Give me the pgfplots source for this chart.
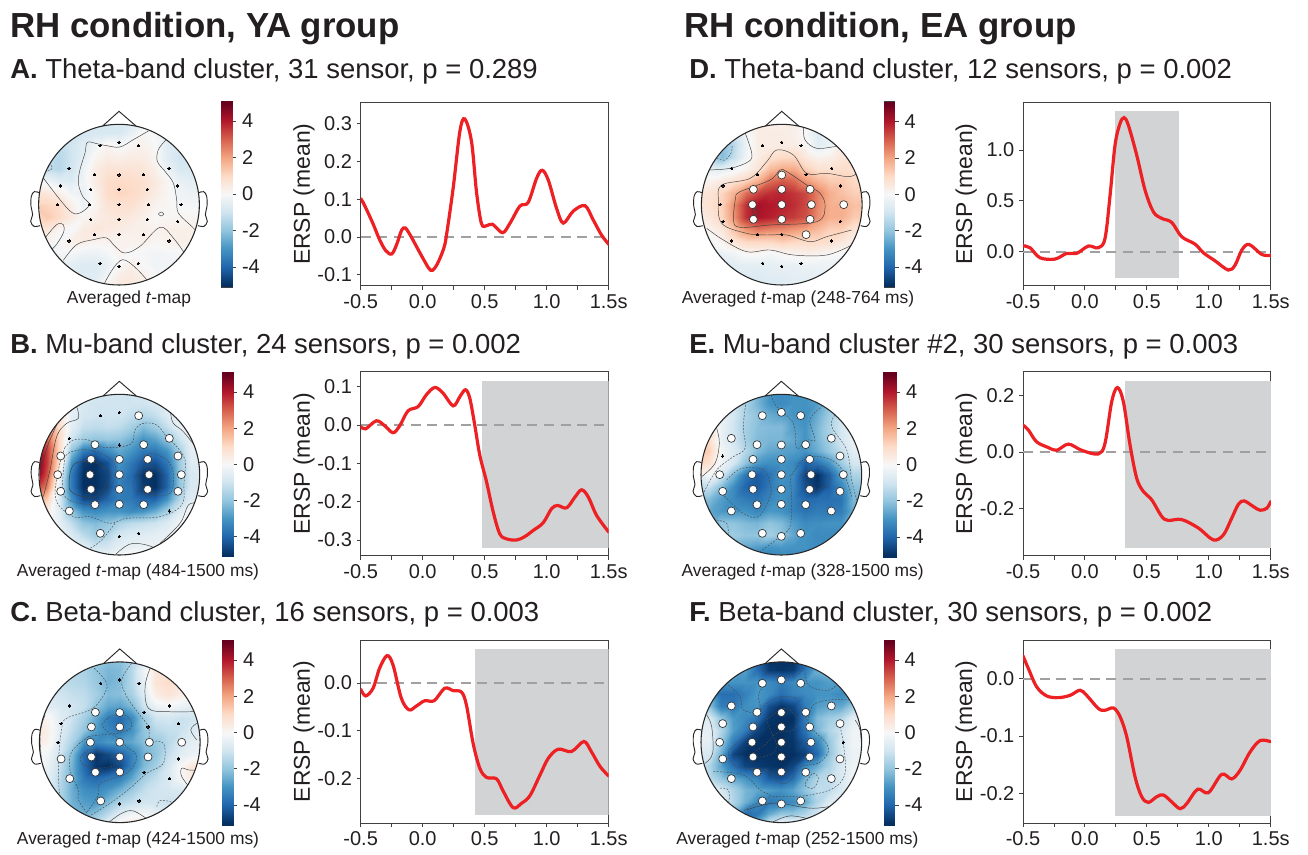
\documentclass[border=0pt]{standalone}
\usepackage{pgfplots}
\usepackage{pgfplotstable}
\usepackage{fontspec}
\setmainfont{Liberation Sans}
\pgfplotsset{compat=1.18}
\definecolor{txt}{HTML}{231F20}
\definecolor{redl}{HTML}{ED2024}
\definecolor{band}{HTML}{D1D3D4}
\definecolor{dashg}{HTML}{A0A0A0}
\definecolor{axl}{HTML}{404040}
\pgfplotstableread[row sep=\\,header=false]{
-1\\-1\\-1\\-1\\-.9\\-.9\\-.9\\-.9\\-.7\\-.4\\-.4\\-.5\\-.6\\-.6\\-.6\\
-1\\-1\\-1\\-1\\-.9\\-.8\\-.8\\-.8\\-.4\\.1\\-.1\\-.4\\-.6\\-.6\\-.6\\
-1.2\\-1.2\\-1.2\\-1\\-.6\\-.2\\.2\\-.1\\.1\\.2\\0\\-.6\\-.8\\-.8\\-.8\\
-1.3\\-1.3\\-1.4\\-1\\-.5\\.1\\.4\\.3\\.4\\.4\\.1\\-.6\\-1\\-1\\-1\\
-1.3\\-1.3\\-1.4\\-1\\-.3\\.4\\.7\\.7\\.7\\.6\\.3\\-.3\\-.8\\-.8\\-.8\\
-.2\\-.2\\-.6\\-.7\\-.2\\.4\\.9\\1\\.9\\.8\\.5\\.1\\-.4\\-.5\\-.5\\
.6\\.6\\.3\\-.2\\-.4\\.2\\.9\\1.1\\1\\.8\\.4\\.1\\-.2\\-.3\\-.3\\
1.1\\1.1\\.9\\.3\\-.3\\.1\\.7\\.8\\.8\\.5\\.2\\.1\\-.1\\-.1\\-.1\\
1.3\\1.3\\1\\.5\\.1\\.3\\.5\\.6\\.5\\.3\\0\\.1\\.1\\.1\\.1\\
.6\\.6\\.1\\-.1\\.4\\.6\\.5\\.4\\.3\\.3\\.2\\.3\\.3\\.3\\.3\\
.2\\.2\\-.1\\.3\\.4\\.2\\.2\\.2\\.2\\.3\\.1\\.2\\.3\\.3\\.3\\
-.3\\-.3\\-.1\\-.1\\-.3\\-.3\\-.1\\.2\\-.1\\-.1\\-.2\\-.1\\-.1\\-.1\\-.1\\
-.4\\-.4\\-.4\\-.5\\-.7\\-.7\\-.4\\0\\.3\\0\\-.2\\-.2\\-.2\\-.2\\-.2\\
-.4\\-.4\\-.4\\-.5\\-.6\\-.6\\-.1\\.4\\.5\\.3\\-.1\\-.2\\-.2\\-.2\\-.2\\
-.4\\-.4\\-.4\\-.5\\-.6\\-.3\\.2\\.5\\.5\\.4\\0\\-.2\\-.2\\-.2\\-.2\\
}\mapA
\pgfplotstableread[row sep=\\,header=false]{
.3\\.3\\0\\-.3\\-.6\\-.8\\-.9\\-1\\-1\\-.9\\-.6\\-.4\\0\\.3\\.3\\
.3\\.3\\0\\-.2\\-.8\\-1\\-1\\-1\\-1\\-1\\-.8\\-.5\\0\\.3\\.3\\
1.5\\1.5\\.8\\-.5\\-.9\\-1\\-1\\-1\\-1.2\\-1.4\\-1.2\\-.7\\0\\.4\\.4\\
2.2\\2.2\\.9\\-.5\\-1.2\\-1.3\\-1.2\\-1.3\\-1.7\\-2.2\\-1.8\\-1.2\\-.5\\.2\\.2\\
3.5\\3\\1\\-1\\-1.8\\-2\\-1.9\\-2\\-2.4\\-3\\-2.7\\-2\\-1.1\\-.3\\-.3\\
4.5\\3.5\\1\\-2\\-3.5\\-3.9\\-3.2\\-2.6\\-3\\-3.6\\-3.6\\-3\\-1.7\\-.5\\-.5\\
5\\3.5\\.8\\-3\\-4.8\\-5\\-4.4\\-3\\-3.6\\-4.3\\-4.4\\-3.6\\-1.9\\-.6\\-.6\\
5\\3.2\\0\\-3.5\\-5\\-5\\-4.6\\-3.2\\-3.9\\-4.9\\-5\\-4\\-2\\-.8\\-.8\\
4.8\\2.5\\-.5\\-3.5\\-5\\-5\\-4.6\\-3.4\\-3.7\\-4.8\\-5\\-4\\-2\\-.8\\-.8\\
2.5\\1.2\\-.7\\-3\\-4.5\\-4.6\\-4\\-3.5\\-3.6\\-4\\-4\\-3\\-1.5\\-.6\\-.6\\
1\\.5\\-.6\\-2\\-3\\-3.2\\-3\\-3\\-3.2\\-3\\-2.5\\-1.7\\-.7\\0\\.3\\
.3\\.2\\-.4\\-1.2\\-2\\-2.2\\-2\\-1.6\\-1.3\\-1.2\\-1\\-.7\\-.2\\.2\\.3\\
.2\\.2\\-.2\\-.7\\-1.3\\-1.8\\-1.5\\-.9\\-.7\\-.6\\-.5\\-.4\\-.1\\.1\\.2\\
.2\\.2\\.1\\-.3\\-.5\\-1\\-.9\\-.5\\-.4\\-.3\\-.3\\-.2\\0\\.1\\.2\\
.2\\.2\\.2\\.2\\.2\\.1\\0\\.3\\.6\\.6\\.2\\0\\0\\.1\\.2\\
}\mapB
\pgfplotstableread[row sep=\\,header=false]{
-1\\-1\\-1\\-1.2\\-1.5\\-1.8\\-2\\-2\\-1.5\\-.6\\0\\.3\\.5\\.5\\.5\\
-1.2\\-1.2\\-1.2\\-1.3\\-1.6\\-2\\-2.3\\-2.2\\-1.4\\-.2\\.6\\.7\\.5\\.3\\.3\\
-1.2\\-1.2\\-1.3\\-1.4\\-1.5\\-1.9\\-2.4\\-2.2\\-1.4\\-.4\\.7\\.9\\.6\\.2\\.2\\
-.9\\-.9\\-1\\-1.2\\-1.3\\-1.7\\-2.2\\-2.1\\-1.6\\-.6\\.4\\.7\\.4\\0\\0\\
-.6\\-.6\\-.8\\-1\\-1.2\\-2\\-2.6\\-2.7\\-2.2\\-1\\-.3\\-.1\\-.3\\-.5\\-.5\\
.3\\.1\\-.6\\-1.1\\-1.7\\-2.6\\-3.5\\-3.9\\-3.2\\-1.8\\-1\\-.9\\-1.1\\-1\\-1\\
.6\\.3\\-.6\\-1.3\\-2\\-2.8\\-3.3\\-3.6\\-3\\-2\\-1.4\\-1.2\\-1.1\\-.7\\-.5\\
.5\\.2\\-.8\\-1.6\\-3\\-3.2\\-2.9\\-2.8\\-2.6\\-2.1\\-1.9\\-1.4\\-.9\\-.5\\-.3\\
.3\\-.2\\-1\\-2.2\\-3.9\\-4.9\\-4.5\\-4\\-3.3\\-2.4\\-2\\-1.2\\-.6\\-.3\\-.2\\
0\\-.4\\-1.2\\-2.4\\-3.9\\-4.9\\-5\\-4.5\\-3.3\\-2.2\\-1.7\\-.9\\0\\.6\\.9\\
-.2\\-.5\\-1.4\\-2.4\\-3.6\\-3.9\\-3.6\\-3.4\\-2.6\\-1.7\\-1.2\\-.8\\-.1\\.5\\.7\\
-.4\\-.6\\-1.5\\-2.5\\-3.1\\-3.2\\-2.9\\-2.4\\-1.8\\-1.2\\-1\\-.9\\-.8\\-.3\\-.3\\
-.5\\-.8\\-1.5\\-2.4\\-2.8\\-2.9\\-2.2\\-1.5\\-1.2\\-1\\-1\\-1.1\\-1\\-.6\\-.6\\
-.5\\-.8\\-1.4\\-2.2\\-2.4\\-2\\-1.3\\-.6\\-.2\\-.1\\-.5\\-.7\\-.7\\-.6\\-.6\\
-.5\\-.8\\-1.2\\-1.5\\-1.5\\-1\\-.2\\.5\\.8\\.7\\-.2\\-.5\\-.6\\-.6\\-.6\\
}\mapC
\pgfplotstableread[row sep=\\,header=false]{
-.5\\-.5\\-.5\\-.5\\0\\.4\\.3\\.3\\.3\\0\\-.3\\0\\.3\\.3\\.3\\
-.8\\-.8\\-1\\-.9\\-.1\\.4\\.4\\.4\\.3\\-.1\\-.7\\-.3\\.3\\.5\\.5\\
-1.5\\-1.7\\-2\\-1.4\\-.3\\.4\\.4\\.4\\.4\\.1\\-.6\\-.3\\.4\\.6\\.6\\
-1.2\\-1.3\\-2.2\\-1.2\\-.2\\.4\\.8\\1\\1\\.5\\.2\\.3\\.6\\.8\\.8\\
-.4\\-.4\\-.5\\-.2\\.2\\.7\\1.6\\1.9\\1.9\\1.2\\.8\\.8\\.9\\.8\\.8\\
.1\\.2\\.5\\.8\\1.2\\1.8\\2.8\\3.1\\2.9\\2.2\\1.7\\1.3\\1.3\\1\\1\\
.6\\.7\\1.1\\1.8\\2.8\\3.4\\3.7\\3.8\\3.6\\3.3\\2.5\\1.8\\1.5\\1.2\\1.2\\
.7\\.8\\1.2\\2.4\\3.7\\4.2\\4\\3.9\\3.7\\3.3\\2.4\\1.8\\1.8\\1.5\\1.5\\
.6\\.6\\1.1\\2.3\\3.7\\4.1\\3.9\\3.7\\3.5\\3.2\\2.3\\1.8\\1.8\\1.3\\1.3\\
.1\\.2\\.6\\1.5\\2.3\\2.7\\2.5\\2.4\\2.2\\2\\1.6\\1.2\\1.2\\.7\\.7\\
-.2\\-.2\\.2\\.7\\1.1\\1.1\\1.1\\1.3\\1.1\\1\\1\\.9\\.6\\.3\\.3\\
-.5\\-.5\\-.3\\-.2\\.1\\.1\\-.1\\.1\\.2\\.3\\.2\\.1\\0\\-.1\\-.1\\
-.7\\-.7\\-.7\\-.6\\-.5\\-.5\\-.5\\-.4\\-.4\\-.3\\-.3\\-.3\\-.3\\-.3\\-.3\\
-.7\\-.7\\-.7\\-.7\\-.7\\-.7\\-.6\\-.6\\-.5\\-.5\\-.4\\-.4\\-.3\\-.3\\-.3\\
-.7\\-.7\\-.7\\-.7\\-.7\\-.7\\-.6\\-.6\\-.5\\-.5\\-.4\\-.4\\-.3\\-.3\\-.3\\
}\mapD
\pgfplotstableread[row sep=\\,header=false]{
-.5\\-.5\\-.7\\-1\\-1.5\\-2.3\\-3\\-3.2\\-3\\-3\\-2.8\\-2\\-1\\-.6\\-.6\\
-.4\\-.4\\-.7\\-1\\-1.6\\-2.3\\-3\\-3.2\\-3\\-3\\-2.8\\-2.1\\-1.1\\-.7\\-.7\\
-.3\\-.3\\-.5\\-.9\\-1.6\\-2\\-2.5\\-2.7\\-3\\-3.1\\-2.5\\-1.8\\-1\\-.6\\-.6\\
.1\\.1\\-.3\\-1\\-1.7\\-2.1\\-2.2\\-2.2\\-2.8\\-3\\-2.3\\-1.6\\-.9\\-.4\\-.4\\
1.2\\.9\\-.4\\-.9\\-1.7\\-2.2\\-2.3\\-2.3\\-2.6\\-3\\-2.3\\-1.7\\-.9\\-.3\\-.3\\
1.6\\1.2\\-.1\\-.7\\-1.4\\-2.2\\-2.6\\-2.7\\-2.8\\-3\\-2.5\\-1.9\\-1.2\\-.5\\-.5\\
1.2\\.8\\-.2\\-.9\\-2\\-2.9\\-3.1\\-3\\-3.2\\-4.1\\-3.7\\-3\\-1.8\\-.9\\-.9\\
.2\\-.1\\-.9\\-2.3\\-3.6\\-4.2\\-3.7\\-3\\-3.2\\-4.6\\-5\\-4.1\\-2.8\\-1.6\\-1.6\\
-.7\\-1.2\\-2.2\\-3.1\\-4\\-4.2\\-3.6\\-3.1\\-3.3\\-4.4\\-4.9\\-4.1\\-3.3\\-2.1\\-2.1\\
-2\\-2.2\\-2.8\\-3.2\\-3.5\\-3.7\\-3.3\\-3\\-3.4\\-3.9\\-3.8\\-3.8\\-3.7\\-2.3\\-2.3\\
-2.4\\-2.6\\-2.9\\-3\\-3\\-3.3\\-2.9\\-3\\-3.4\\-3.7\\-3.5\\-3.6\\-3.5\\-2.5\\-2.5\\
-2.4\\-2.4\\-2\\-2\\-2.2\\-2.3\\-2\\-2.2\\-2.8\\-3.2\\-3.1\\-3\\-3\\-2.6\\-2.6\\
-2.4\\-2.4\\-1.9\\-1.8\\-2\\-2\\-1.7\\-2\\-2.6\\-3\\-3.2\\-3.2\\-3.2\\-3\\-3\\
-2.6\\-2.6\\-2.5\\-2.4\\-2.6\\-2.8\\-3\\-2.9\\-3\\-3\\-3.2\\-3.3\\-3.3\\-3.1\\-3.1\\
-3\\-3\\-3\\-3\\-3.2\\-3.4\\-3.5\\-3.3\\-3.3\\-3.3\\-3.3\\-3.3\\-3.3\\-3\\-3\\
}\mapE
\pgfplotstableread[row sep=\\,header=false]{
-2.5\\-2.5\\-2.5\\-2.5\\-3\\-4\\-5\\-5\\-5\\-4\\-2.8\\-2.5\\-2.5\\-2\\-2\\
-1.8\\-1.8\\-1.9\\-2.2\\-2.8\\-3.8\\-4.8\\-4.9\\-4.8\\-3.6\\-2.4\\-2.2\\-2.2\\-2\\-2\\
-2.5\\-2.8\\-3\\-3\\-3\\-3\\-3.2\\-3.5\\-3.2\\-3\\-3\\-2.8\\-2.8\\-2.4\\-2.4\\
-3.2\\-3.2\\-3.8\\-3.8\\-3.4\\-2.9\\-3.2\\-3.8\\-3.4\\-3.2\\-3\\-3\\-3.2\\-2.8\\-2.8\\
-1.8\\-2\\-3.5\\-3.6\\-3.1\\-3\\-4.4\\-4.9\\-4.6\\-3.5\\-2.8\\-2.6\\-2.6\\-1.8\\-1.8\\
-.5\\-.7\\-2\\-2.9\\-3.2\\-3.7\\-4.9\\-5\\-5\\-3.5\\-2.2\\-1.8\\-1.5\\-.5\\-.5\\
-.4\\-.5\\-1.5\\-2.8\\-3.5\\-4.6\\-5\\-5\\-4.8\\-3.7\\-2.3\\-1.5\\-1\\-.2\\-.2\\
-.3\\-.5\\-1.9\\-3.5\\-4.7\\-5\\-5\\-5\\-4.9\\-4.2\\-3.4\\-1.9\\-.9\\-.2\\-.2\\
-.5\\-.8\\-2.5\\-4.6\\-5\\-5\\-5\\-5\\-5\\-4.7\\-3.9\\-2\\-.9\\-.3\\-.3\\
-1\\-1.5\\-2.7\\-3.8\\-4.6\\-4.8\\-4.9\\-5\\-4.6\\-3.2\\-2.5\\-1.6\\-.8\\-.2\\-.2\\
-1\\-1.3\\-2\\-2.6\\-3\\-3.4\\-4.2\\-4.4\\-3.8\\-2.4\\-1.5\\-1.3\\-.8\\-.2\\-.2\\
-.4\\-.3\\-.8\\-1.6\\-2.3\\-2.6\\-2.8\\-3\\-2.7\\-2\\-1.3\\-1.3\\-.8\\-.2\\-.2\\
-.1\\-.1\\-.6\\-1.5\\-2.4\\-3.2\\-3.6\\-3.4\\-3.2\\-2.6\\-1.5\\-.7\\-.2\\0\\0\\
-.1\\-.2\\-.8\\-2.4\\-3.8\\-3.6\\-2.5\\-1.9\\-1.9\\-1.5\\-.9\\-.3\\0\\0\\0\\
-.1\\-.2\\-1.5\\-3.2\\-3.4\\-2\\-.5\\.3\\.3\\.1\\-.1\\0\\0\\0\\0\\
}\mapF
\pgfplotsset{
  colormap={rdbu}{rgb255=(5,48,97) rgb255=(33,102,172) rgb255=(67,147,195) rgb255=(146,197,222) rgb255=(209,229,240) rgb255=(247,247,247) rgb255=(253,219,199) rgb255=(244,165,130) rgb255=(214,96,77) rgb255=(178,24,43) rgb255=(103,0,31)},
  colormap name=rdbu,
  topo/.style={at={#1},anchor=center,scale only axis,width=145pt,height=145pt,
    xmin=-290,xmax=290,ymin=-290,ymax=290,hide axis,clip=false,point meta min=-5,point meta max=5},
  mapsurf/.style={surf,shader=interp,mesh/cols=15,point meta=explicit,mesh/check=false},
  cs/.style={smooth,tension=0.6,line width=0.35pt,color=black!75,no markers},
  cd/.style={smooth,tension=0.6,line width=0.35pt,color=black!70,no markers,dash pattern=on 1.4pt off 1.1pt},
  outl/.style={line width=0.7pt,color=black!85,no markers},
  blk/.style={only marks,mark=*,mark size=0.85pt,mark options={fill=black,draw=black,line width=0pt}},
  wht/.style={only marks,mark=*,mark size=3pt,mark options={fill=white,draw=black!80,line width=0.5pt}},
  cbar/.style={at={#1},anchor=south west,scale only axis,
    ymin=-5.1,ymax=5.1,xmin=0,xmax=1,xtick=\empty,ytick pos=right,ytick={-4,-2,0,2,4},
    yticklabels={-4,-2,0,2,4},axis line style={axl,line width=0.6pt},
    y tick style={axl,line width=0.6pt},major tick length=3pt,tick align=outside,
    tick label style={font=\fontsize{15}{17}\selectfont,text=txt},yticklabel style={xshift=1pt},
    point meta min=-5,point meta max=5},
  lin/.style={at={#1},anchor=south west,scale only axis,
    xmin=-0.5,xmax=1.5,xtick={-0.5,-0.25,...,1.5},xticklabels={-0.5,,0.0,,0.5,,1.0,,1.5s},
    tick pos=left,tick align=outside,major tick length=3pt,
    axis line style={axl,line width=0.7pt},tick style={axl,line width=0.7pt},
    tick label style={font=\fontsize{15}{17}\selectfont,text=txt},
    ylabel={ERSP (mean)},ylabel style={at={(axis description cs:-0.205,0.5)},anchor=base,font=\fontsize{17.2}{19}\selectfont,text=txt}},
  redc/.style={smooth,tension=0.55,line width=2.4pt,color=redl,no markers,line cap=round},
  zero/.style={line width=1.25pt,color=dashg,dash pattern=on 7.5pt off 5pt,no markers},
  bnd/.style={draw=none,fill=band,no markers},
}
\newcommand{\cbplot}{\addplot[surf,shader=interp,mesh/cols=2,point meta=y,mesh/check=false] coordinates {
(0,-5.1)(1,-5.1)
(0,-5)(1,-5)
(0,-4)(1,-4)
(0,-3)(1,-3)
(0,-2)(1,-2)
(0,-1)(1,-1)
(0,0)(1,0)
(0,1)(1,1)
(0,2)(1,2)
(0,3)(1,3)
(0,4)(1,4)
(0,5)(1,5)
(0,5.1)(1,5.1)
};}
\newcommand{\gridplot}[1]{\addplot[mapsurf] table[x index=0,y index=0,x expr={-252+36*mod(\coordindex,15)},y expr={252-36*floor(\coordindex/15)},meta index=0] {#1};}
\newcommand{\maskhead}{%
  \fill[white,even odd rule] (axis cs:-262,-262) rectangle (axis cs:262,262) (axis cs:0,0) circle[radius=241];
  \addplot[outl,fill=white,smooth,tension=0.6] coordinates {(-240,36)(-254,39)(-263,25)(-264,-5)(-259,-30)(-265,-50)(-255,-65)(-237,-63)};
  \addplot[outl,fill=white,smooth,tension=0.6] coordinates {(240,36)(254,39)(263,25)(264,-5)(259,-30)(265,-50)(255,-65)(237,-63)};
  \addplot[outl] coordinates {(-49,236)(0,280)(51,236)};
  \draw[line width=0.8pt,black!85] (axis cs:0,0) circle[radius=241];
}
\begin{document}
\begin{tikzpicture}[every node/.append style={text=txt}]
\path[use as bounding box] (0,0) rectangle (981pt,640.5pt);
% ---- topo maps
\begin{axis}[topo={(89.25pt,487pt)}]
\gridplot{\mapA}
\addplot[cs] coordinates {(88,221)(43,195)(3,173)(-37,177)(-67,183)(-95,187)(-102,155)(-117,105)(-122,65)(-109,25)(-89,0)(-117,-25)(-142,-23)(-177,15)(-227,80)};
\addplot[cs] coordinates {(140,193)(118,165)(115,130)(138,100)(163,65)(173,15)(178,-25)(218,-65)(233,-80)};
\addplot[cs] coordinates {(-167,-167)(-127,-120)(-77,-105)(-37,-100)(-12,-125)(18,-145)(63,-125)(123,-68)(163,-100)(203,-155)};
\addplot[cs] coordinates {(-44,-237)(11,-165)(83,-225)};
\addplot[cs] coordinates {(-222,-100)(-187,-60)(-167,-60)(-167,-85)(-192,-125)(-212,-140)};
\addplot[cs] coordinates {(118,-28)(126,-22)(134,-28)(126,-34)(118,-28)};
\addplot[cd] coordinates {(-210,125)(-200,110)(-215,100)};
\maskhead
\addplot[blk] coordinates {(-57,177)(0,187)(58,177)(-150,109)(-73,90)(0,89)(73,90)(150,109)(-176,56)(-85,46)(0,46)(85,46)(176,56)(-185,0)(-88,0)(0,0)(89,0)(186,0)(-85,-44)(0,-44)(85,-44)(176,-50)(-150,-109)(-73,-90)(0,-89)(73,-90)(150,-109)(-57,-176)(0,-185)(58,-176)};
\end{axis}
\begin{axis}[topo={(89.5pt,284.5pt)}]
\gridplot{\mapB}
\addplot[cs] coordinates {(-128,204)(-123,169)(-158,154)(-188,114)(-208,14)(-228,-66)};
\addplot[cs] coordinates {(-186,154)(-216,84)(-236,14)};
\addplot[cs] coordinates {(154,184)(162,154)(192,129)(232,79)};
\addplot[cs] coordinates {(232,-86)(207,-91)(182,-146)(122,-206)};
\addplot[cs] coordinates {(-10,-238)(17,-216)(42,-206)(82,-211)(122,-226)};
\addplot[cd] coordinates {(-163,82)(-183,14)(-190,-76)(-138,-126)(-88,-126)(-28,-146)(22,-131)(122,-126)(187,-91)(194,-26)(197,44)(172,84)(142,114)(112,149)(72,154)(47,134)(37,94)(-8,82)(-58,84)(-93,104)(-138,104)(-163,82)};
\addplot[cd] coordinates {(-13,-146)(-53,-196)(-88,-221)};
\addplot[cd] coordinates {(-163,54)(-168,-56)(-118,-86)(-58,-81)(-13,-6)(-23,44)(-88,74)(-143,69)(-163,54)};
\addplot[cd] coordinates {(52,4)(42,-41)(92,-61)(152,-56)(162,4)(142,44)(92,64)(62,34)(52,4)};
\addplot[cs] coordinates {(-148,4)(-148,-46)(-108,-66)(-63,-61)(-28,-1)(-48,24)(-88,39)(-133,34)(-148,4)};
\addplot[cd] coordinates {(57,-16)(82,-46)(122,-51)(137,-16)(117,14)(82,24)(62,4)(57,-16)};
\maskhead
\addplot[blk] coordinates {(-57,177)(0,187)(-150,109)(0,89)(150,-109)(0,-185)(58,-176)};
\addplot[wht] coordinates {(58,177)(150,109)(-73,90)(73,90)(-176,56)(-85,46)(0,46)(85,46)(176,56)(-185,0)(-88,0)(0,0)(89,0)(186,0)(-176,-50)(-85,-44)(0,-44)(85,-44)(176,-50)(-150,-109)(-73,-90)(0,-89)(73,-90)(-57,-176)};
\end{axis}
\begin{axis}[topo={(89.8pt,83.8pt)}]
\gridplot{\mapC}
\addplot[cs] coordinates {(91,222)(76,167)(86,102)(141,92)(231,92)};
\addplot[cs] coordinates {(231,57)(213,37)(231,7)};
\addplot[cs] coordinates {(231,-83)(206,-83)(186,-78)(186,-103)(216,-143)};
\addplot[cs] coordinates {(-224,82)(-239,27)(-234,-63)};
\addplot[cs] coordinates {(-34,-241)(6,-213)(41,-206)(86,-233)};
\addplot[cd] coordinates {(36,237)(6,187)(21,137)(56,87)(86,47)(91,7)(131,-3)(131,-63)(81,-93)(31,-138)(-29,-183)(-94,-223)};
\addplot[cd] coordinates {(-84,229)(-39,177)(-54,132)(-89,97)(-159,72)(-174,42)(-184,-63)(-181,-153)};
\addplot[cd] coordinates {(-54,52)(-29,77)(16,82)(36,52)(16,32)(-29,27)(-54,52)};
\addplot[cd] coordinates {(-94,17)(-144,-28)(-149,-83)(-124,-143)(-124,-173)(-96,-215)};
\addplot[cd] coordinates {(-94,17)(-20,22)(20,-13)(51,-43)(21,-93)(-59,-123)(-64,-158)(-100,-212)};
\addplot[cd] coordinates {(-119,-48)(-89,-21)(-39,-35)(-4,-48)(-9,-68)(-69,-78)(-109,-68)(-119,-48)};
\addplot[cd] coordinates {(111,-193)(121,-175)(151,-178)(171,-188)};
\maskhead
\addplot[blk] coordinates {(-57,177)(0,187)(58,177)(-150,109)(73,90)(150,109)(-176,56)(85,46)(176,56)(-185,0)(176,-50)(73,-90)(150,-109)(0,-185)(58,-176)};
\addplot[wht] coordinates {(-73,90)(0,89)(-85,46)(0,46)(-88,0)(0,0)(89,0)(186,0)(-176,-50)(-85,-44)(0,-44)(85,-44)(-150,-109)(-73,-90)(0,-89)(-57,-176)};
\end{axis}
\begin{axis}[topo={(586.3pt,487pt)}]
\gridplot{\mapD}
\addplot[cs] coordinates {(-110,216)(-90,154)(-100,129)(-155,109)(-225,104)};
\addplot[cs] coordinates {(65,232)(70,194)(105,169)(165,174)(195,164)};
\addplot[cs] coordinates {(-225,-71)(-175,-106)(-105,-141)(-35,-136)(35,-151)(135,-151)(210,-121)};
\addplot[cs] coordinates {(210,-76)(135,-96)(85,-111)(15,-91)(-45,-91)(-105,-86)(-180,-56)(-190,14)(-180,59)(-95,79)(-45,129)(-15,164)(35,149)(75,94)(135,94)(205,84)(235,104)};
\addplot[cs] coordinates {(-138,24)(-145,-46)(-125,-68)(-35,-61)(105,-51)(130,-6)(115,34)(75,59)(15,99)(-5,104)(-35,74)(-125,39)(-138,24)};
\addplot[cs] coordinates {(-90,-21)(-80,-11)(-70,-21)(-80,-31)(-90,-21)};
\addplot[cd] coordinates {(-195,139)(-170,134)(-150,159)(-150,179)};
\maskhead
\addplot[blk] coordinates {(-57,177)(0,187)(58,177)(-150,109)(-73,90)(73,90)(150,109)(-176,56)(176,56)(-185,0)(-176,-50)(176,-50)(-150,-109)(-73,-90)(0,-89)(150,-109)(-57,-176)(0,-185)(58,-176)};
\addplot[wht] coordinates {(0,89)(-85,46)(0,46)(85,46)(-88,0)(0,0)(89,0)(186,0)(-85,-44)(0,-44)(85,-44)(73,-90)};
\end{axis}
\begin{axis}[topo={(586pt,284.5pt)}]
\gridplot{\mapE}
\addplot[cs] coordinates {(-194,139)(-186,94)(-199,34)(-239,-6)};
\addplot[cd] coordinates {(-106,219)(-114,144)(-109,79)(-144,54)(-194,14)(-234,-56)};
\addplot[cd] coordinates {(-31,239)(-14,204)(36,154)(46,79)(76,104)(101,104)(86,164)(121,204)};
\addplot[cd] coordinates {(161,179)(151,144)(196,74)(211,-16)(226,-76)};
\addplot[cd] coordinates {(-164,-16)(-119,19)(-54,14)(-34,-26)(-34,-66)(-69,-126)(-114,-116)(-159,-76)(-179,-56)};
\addplot[cd] coordinates {(31,-1)(66,44)(116,54)(176,24)(211,-66)};
\addplot[cd] coordinates {(26,-1)(31,-76)(26,-156)(-4,-186)(-64,-231)};
\addplot[cd] coordinates {(58,-1)(96,24)(136,19)(146,-26)(106,-41)(71,-21)(58,-1)};
\addplot[cd] coordinates {(-194,-136)(-164,-146)(-159,-176)};
\maskhead
\addplot[blk] coordinates {(-176,56)};
\addplot[wht] coordinates {(-57,177)(0,187)(58,177)(-150,109)(-73,90)(0,89)(73,90)(150,109)(-85,46)(0,46)(85,46)(176,56)(-185,0)(-88,0)(0,0)(89,0)(186,0)(-176,-50)(-85,-44)(0,-44)(85,-44)(176,-50)(-150,-109)(-73,-90)(0,-89)(73,-90)(150,-109)(-57,-176)(0,-185)(58,-176)};
\end{axis}
\begin{axis}[topo={(586pt,83.8pt)}]
\gridplot{\mapF}
\addplot[cs] coordinates {(-29,-241)(26,-221)(96,-233)};
\addplot[cs] coordinates {(221,67)(236,37)(241,-23)};
\addplot[cs] coordinates {(-224,82)(-209,47)(-206,-33)(-229,-63)};
\addplot[cd] coordinates {(-4,137)(46,132)(61,97)(96,37)(131,2)(141,-28)(111,-63)(56,-73)(36,-103)(16,-123)(-14,-118)(-44,-83)(-134,-73)(-159,-33)(-134,-3)(-89,32)(-54,107)(-4,137)};
\addplot[cd] coordinates {(-44,67)(11,102)(46,72)(36,37)(-14,27)(-44,-3)(-94,-43)(-34,-38)(-14,-10)(-30,30)(-44,67)};
\addplot[cd] coordinates {(-159,172)(-124,137)(-114,97)(-64,92)(-69,142)(-49,172)};
\addplot[cd] coordinates {(71,207)(86,167)(146,157)(176,187)};
\addplot[cd] coordinates {(-64,232)(-34,202)(36,197)(71,227)};
\addplot[cd] coordinates {(-204,-88)(-114,-98)(-64,-143)(-34,-163)(-94,-193)(-119,-213)};
\addplot[cd] coordinates {(206,127)(146,127)(96,112)(81,67)};
\addplot[cd] coordinates {(176,47)(186,-3)(191,-93)(156,-138)(86,-158)(16,-163)(-34,-163)};
\addplot[cd] coordinates {(86,-103)(71,-128)(96,-138)(111,-108)(96,-93)(86,-103)};
\addplot[cd] coordinates {(-184,-138)(-159,-143)(-159,-183)(-184,-193)};
\addplot[cs] coordinates {(-104,-203)(-54,-188)(-4,-183)(96,-198)(196,-183)};
\maskhead
\addplot[blk] coordinates {(186,0)};
\addplot[wht] coordinates {(-57,177)(0,187)(58,177)(-150,109)(-73,90)(0,89)(73,90)(150,109)(-176,56)(-85,46)(0,46)(85,46)(176,56)(-185,0)(-88,0)(0,0)(89,0)(-176,-50)(-85,-44)(0,-44)(85,-44)(176,-50)(-150,-109)(-73,-90)(0,-89)(73,-90)(150,-109)(-57,-176)(0,-185)(58,-176)};
\end{axis}
% ---- colour bars
\begin{axis}[cbar={(165.75pt,425.25pt)},width=8.25pt,height=139.5pt]\cbplot\end{axis}
\begin{axis}[cbar={(166.75pt,223pt)},width=8pt,height=138.5pt]\cbplot\end{axis}
\begin{axis}[cbar={(166.5pt,21.75pt)},width=8.25pt,height=138.75pt]\cbplot\end{axis}
\begin{axis}[cbar={(663pt,425.25pt)},width=8pt,height=139pt]\cbplot\end{axis}
\begin{axis}[cbar={(662.5pt,222.75pt)},width=9.5pt,height=138.75pt]\cbplot\end{axis}
\begin{axis}[cbar={(663pt,21.75pt)},width=8pt,height=138.75pt]\cbplot\end{axis}
% ---- time courses
\begin{axis}[lin={(270.5pt,426.2pt)},width=186pt,height=137.25pt,ymin=-0.129,ymax=0.356,
  ytick={-0.1,0,0.1,0.2,0.3},yticklabels={-0.1,0.0,0.1,0.2,0.3}]
\addplot[zero] coordinates {(-0.5,0)(1.5,0)};
\addplot[redc] coordinates {(-.5,.102)(-.47,.085)(-.40,.035)(-.35,-.005)(-.30,-.035)(-.25,-.045)(-.21,-.02)(-.17,.018)(-.14,.024)(-.10,.005)(-.05,-.025)(0,-.055)(.05,-.083)(.08,-.088)(.12,-.07)(.17,-.03)(.192,.005)(.246,.13)(.3,.28)(.34,.313)(.394,.253)(.434,.12)(.474,.036)(.515,.03)(.563,.034)(.644,.0115)(.703,.036)(.784,.082)(.851,.092)(.919,.156)(.964,.177)(1.013,.151)(1.08,.076)(1.134,.037)(1.215,.069)(1.309,.083)(1.376,.045)(1.443,.005)(1.5,-.019)};
\end{axis}
\begin{axis}[lin={(270.5pt,223.7pt)},width=186pt,height=138pt,ymin=-0.341,ymax=0.139,
  ytick={-0.3,-0.2,-0.1,0,0.1},yticklabels={-0.3,-0.2,-0.1,0.0,0.1}]
\addplot[bnd] coordinates {(.478,-.321)(1.5,-.321)(1.5,.115)(.478,.115)} -- cycle;
\addplot[zero] coordinates {(-0.5,0)(1.5,0)};
\addplot[redc] coordinates {(-.5,-.004)(-.46,-.01)(-.373,.011)(-.306,-.002)(-.239,-.02)(-.185,-.002)(-.118,.037)(-.037,.048)(.03,.079)(.098,.098)(.165,.083)(.246,.05)(.3,.074)(.345,.092)(.38,.07)(.42,0)(.461,-.079)(.515,-.148)(.569,-.227)(.622,-.284)(.676,-.297)(.757,-.30)(.824,-.291)(.891,-.275)(.972,-.255)(1.04,-.218)(1.089,-.21)(1.161,-.216)(1.228,-.188)(1.282,-.169)(1.336,-.188)(1.403,-.236)(1.5,-.279)};
\end{axis}
\begin{axis}[lin={(270.5pt,23.25pt)},width=186pt,height=137.25pt,ymin=-0.292,ymax=0.0896,
  ytick={-0.2,-0.1,0},yticklabels={-0.2,-0.1,0.0}]
\addplot[bnd] coordinates {(.422,-.276)(1.5,-.276)(1.5,.0708)(.422,.0708)} -- cycle;
\addplot[zero] coordinates {(-0.5,0)(1.5,0)};
\addplot[redc] coordinates {(-.5,-.013)(-.46,-.027)(-.4,-.011)(-.347,.031)(-.287,.057)(-.239,.0375)(-.172,-.032)(-.11,-.056)(-.05,-.048)(.017,-.037)(.092,-.037)(.178,-.011)(.246,-.016)(.313,-.019)(.353,-.046)(.407,-.126)(.461,-.178)(.515,-.197)(.596,-.2)(.65,-.226)(.73,-.26)(.797,-.251)(.865,-.235)(.946,-.192)(1.013,-.157)(1.094,-.138)(1.2,-.143)(1.3,-.122)(1.36,-.143)(1.43,-.174)(1.5,-.194)};
\end{axis}
\begin{axis}[lin={(767.25pt,426.2pt)},width=185.8pt,height=137.25pt,ymin=-0.334,ymax=1.465,
  ytick={0,0.5,1},yticklabels={0.0,0.5,1.0}]
\addplot[bnd] coordinates {(.243,-.259)(.76,-.259)(.76,1.383)(.243,1.383)} -- cycle;
\addplot[zero] coordinates {(-0.5,0)(1.5,0)};
\addplot[redc] coordinates {(-.5,.059)(-.443,.039)(-.363,-.059)(-.242,-.072)(-.147,-.016)(-.067,-.016)(.028,.056)(.108,.039)(.162,.131)(.203,.557)(.243,1.05)(.283,1.26)(.316,1.318)(.35,1.246)(.418,.95)(.485,.607)(.552,.393)(.62,.328)(.7,.289)(.781,.148)(.889,.075)(.956,-.01)(1.05,-.089)(1.158,-.18)(1.212,-.131)(1.266,.016)(1.325,.072)(1.427,-.026)(1.5,-.036)};
\end{axis}
\begin{axis}[lin={(767.25pt,223.7pt)},width=185.8pt,height=138pt,ymin=-0.367,ymax=0.284,
  ytick={-0.2,0,0.2},yticklabels={-0.2,0.0,0.2}]
\addplot[bnd] coordinates {(.324,-.34)(1.5,-.34)(1.5,.251)(.324,.251)} -- cycle;
\addplot[zero] coordinates {(-0.5,0)(1.5,0)};
\addplot[redc] coordinates {(-.5,.095)(-.457,.078)(-.39,.036)(-.296,.016)(-.228,.006)(-.134,.028)(-.026,.006)(.108,-.007)(.162,.031)(.216,.178)(.262,.228)(.31,.178)(.364,.025)(.418,-.093)(.472,-.14)(.539,-.169)(.62,-.228)(.674,-.242)(.781,-.239)(.916,-.269)(1.037,-.311)(1.118,-.293)(1.185,-.234)(1.239,-.185)(1.285,-.173)(1.36,-.193)(1.414,-.206)(1.468,-.199)(1.5,-.175)};
\end{axis}
\begin{axis}[lin={(767.25pt,23.25pt)},width=185.8pt,height=137.25pt,ymin=-0.252,ymax=0.0677,
  ytick={-0.2,-0.1,0},yticklabels={-0.2,-0.1,0.0}]
\addplot[bnd] coordinates {(.243,-.2395)(1.5,-.2395)(1.5,.052)(.243,.052)} -- cycle;
\addplot[zero] coordinates {(-0.5,0)(1.5,0)};
\addplot[redc] coordinates {(-.5,.04)(-.457,.018)(-.39,-.014)(-.309,-.03)(-.215,-.033)(-.12,-.029)(-.04,-.02)(.014,-.029)(.108,-.052)(.162,-.055)(.23,-.051)(.283,-.066)(.337,-.101)(.404,-.171)(.458,-.206)(.512,-.216)(.58,-.206)(.633,-.203)(.7,-.215)(.768,-.227)(.822,-.218)(.91,-.193)(.997,-.199)(1.104,-.167)(1.185,-.175)(1.252,-.16)(1.333,-.128)(1.414,-.108)(1.5,-.11)};
\end{axis}
% ---- text
\newcommand{\bigt}{\fontsize{26.1}{29}\selectfont\bfseries}
\newcommand{\midt}{\fontsize{20.6}{23}\selectfont}
\newcommand{\smlt}{\fontsize{13.05}{15}\selectfont}
\node[anchor=base west,inner sep=0pt] at (7.5pt,612pt) {\bigt RH condition, YA group};
\node[anchor=base west,inner sep=0pt] at (513pt,612pt) {\bigt RH condition, EA group};
\node[anchor=base west,inner sep=0pt] at (7.5pt,581.25pt) {\midt\textbf{A.} Theta-band cluster, 31 sensor, p = 0.289};
\node[anchor=base west,inner sep=0pt] at (7.5pt,375pt) {\midt\textbf{B.} Mu-band cluster, 24 sensors, p = 0.002};
\node[anchor=base west,inner sep=0pt] at (7.5pt,174.75pt) {\midt\textbf{C.} Beta-band cluster, 16 sensors, p = 0.003};
\node[anchor=base west,inner sep=0pt] at (516.75pt,581.25pt) {\midt\textbf{D.} Theta-band cluster, 12 sensors, p = 0.002};
\node[anchor=base west,inner sep=0pt] at (516.75pt,375pt) {\midt\textbf{E.} Mu-band cluster \#2, 30 sensors, p = 0.003};
\node[anchor=base west,inner sep=0pt] at (516.75pt,174.75pt) {\midt\textbf{F.} Beta-band cluster, 30 sensors, p = 0.002};
\node[anchor=base,inner sep=0pt] at (96.75pt,412.5pt) {\smlt Averaged \textit{t}-map};
\node[anchor=base,inner sep=0pt] at (103.5pt,208.5pt) {\smlt Averaged \textit{t}-map (484-1500 ms)};
\node[anchor=base,inner sep=0pt] at (103.5pt,7.5pt) {\smlt Averaged \textit{t}-map (424-1500 ms)};
\node[anchor=base,inner sep=0pt] at (598.5pt,412.5pt) {\smlt Averaged \textit{t}-map (248-764 ms)};
\node[anchor=base,inner sep=0pt] at (602pt,208.5pt) {\smlt Averaged \textit{t}-map (328-1500 ms)};
\node[anchor=base,inner sep=0pt] at (598pt,7.5pt) {\smlt Averaged \textit{t}-map (252-1500 ms)};
\end{tikzpicture}
\end{document}
